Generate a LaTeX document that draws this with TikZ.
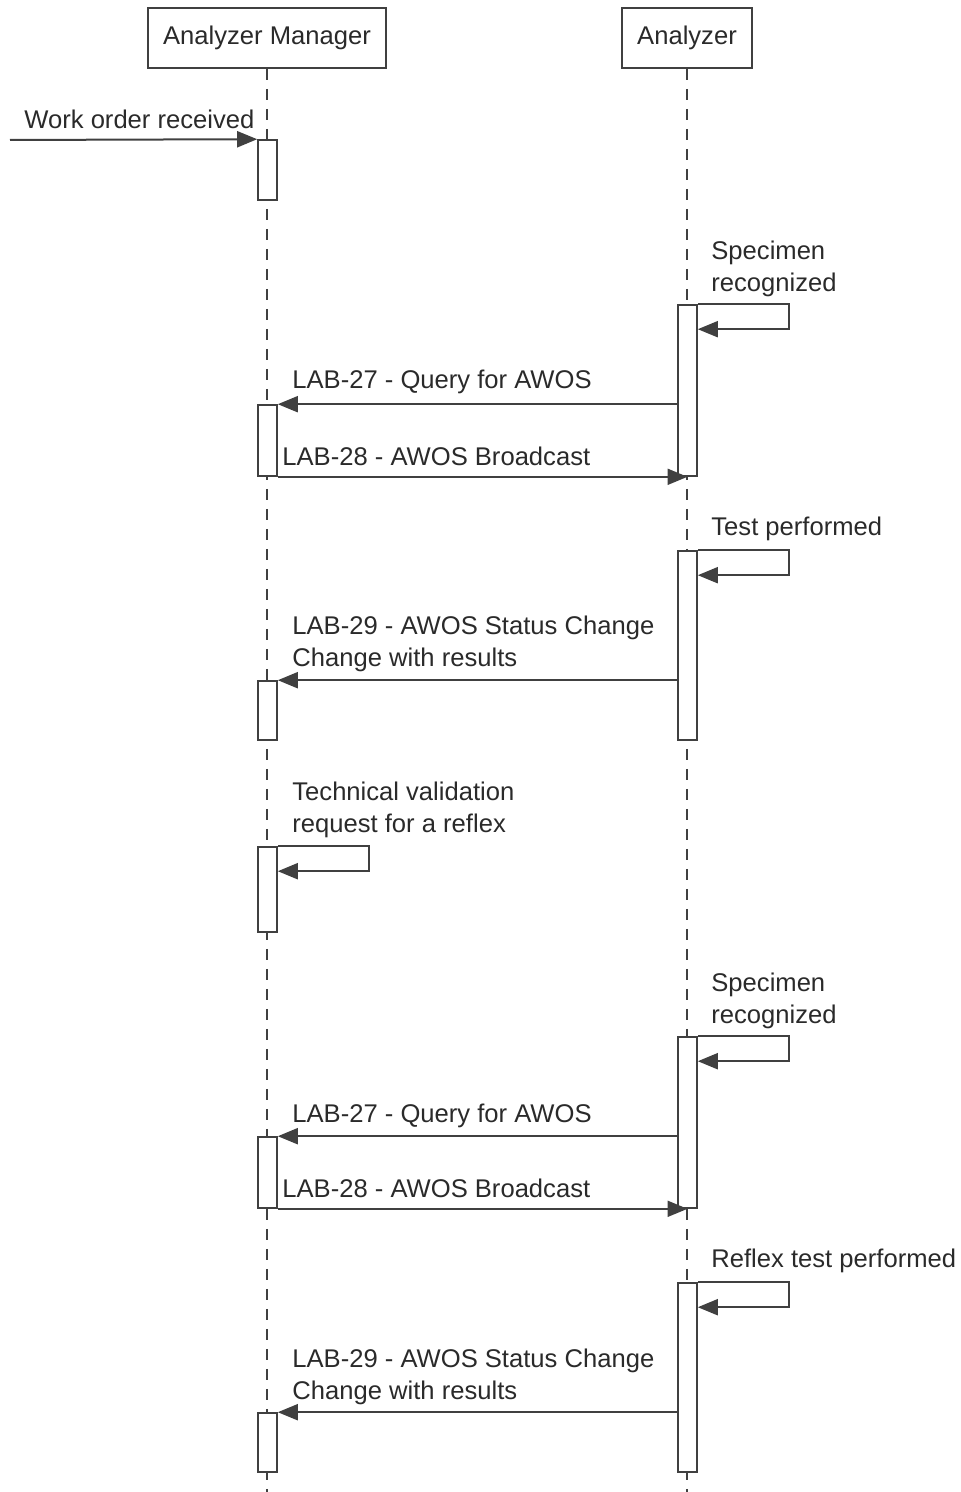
\documentclass[tikz,border=0pt]{standalone}
\usepackage{fontspec}
\setmainfont{Liberation Sans}
\usetikzlibrary{arrows.meta}
\definecolor{linegray}{HTML}{404040}
\definecolor{textgray}{HTML}{2A2A2A}
\tikzset{
    lifehead/.style={rectangle,draw=linegray,line width=0.8pt,fill=white,minimum height=30pt,inner sep=0pt,font=\fontsize{12.8}{16}\selectfont,text=textgray},
    activation/.style={rectangle,draw=linegray,line width=0.8pt,fill=white,minimum width=9.5pt,inner sep=0pt},
    msglabel/.style={rectangle,draw=none,anchor=west,align=left,inner sep=0pt,font=\fontsize{12.8}{16}\selectfont,text=textgray},
    lifeline/.style={draw=linegray,line width=0.7pt,dash pattern=on 5.5pt off 4.5pt},
    directed/.style={draw=linegray,line width=1pt,arrows={-{Triangle[length=10pt,width=8pt]}}},
    selfmsg/.style={draw=linegray,line width=1pt,arrows={-{Triangle[length=10pt,width=8pt]}}},
    }
\begin{document}
\begin{tikzpicture}[x=0.5pt,y=-0.5pt]
	\useasboundingbox (0,0) rectangle (960,1492);

		\node[lifehead,minimum width=119pt] (mgr) at (267,38) {Analyzer Manager};
		\node[lifehead,minimum width=65pt] (ana) at (687,38) {Analyzer};

		\coordinate (mgrend) at (267,1492);
		\coordinate (anaend) at (687,1492);
		\coordinate (start) at (10,140);

	\draw[lifeline] (mgr.south) -- (mgrend);
	\draw[lifeline] (ana.south) -- (anaend);

		% activations of the manager
		\node[activation,minimum height=30pt] (m1) at (267.5,170) {};
		\node[activation,minimum height=35.5pt] (m2) at (267.5,440.5) {};
		\node[activation,minimum height=29.5pt] (m3) at (267.5,710.5) {};
		\node[activation,minimum height=42.5pt] (m4) at (267.5,889.5) {};
		\node[activation,minimum height=35.5pt] (m5) at (267.5,1172.5) {};
		\node[activation,minimum height=29.5pt] (m6) at (267.5,1442.5) {};

		% activations of the analyzer
		\node[activation,minimum height=85.5pt] (a1) at (687.5,390.5) {};
		\node[activation,minimum height=94.5pt] (a2) at (687.5,645.5) {};
		\node[activation,minimum height=85.5pt] (a3) at (687.5,1122.5) {};
		\node[activation,minimum height=94.5pt] (a4) at (687.5,1377.5) {};

	\draw[directed] (start) to (m1.north west);

	\draw[selfmsg] (a1.north east) -- ++(91,0) |- ([yshift=-12.5pt]a1.north east);
	\draw[directed] (a1.west |- m2.north) to (m2.north east);
	\draw[directed] (m2.south east) to (a1.south);

	\draw[selfmsg] (a2.north east) -- ++(91,0) |- ([yshift=-12.5pt]a2.north east);
	\draw[directed] (a2.west |- m3.north) to (m3.north east);

	\draw[selfmsg] (m4.north east) -- ++(91,0) |- ([yshift=-12.5pt]m4.north east);

	\draw[selfmsg] (a3.north east) -- ++(91,0) |- ([yshift=-12.5pt]a3.north east);
	\draw[directed] (a3.west |- m5.north) to (m5.north east);
	\draw[directed] (m5.south east) to (a3.south);

	\draw[selfmsg] (a4.north east) -- ++(91,0) |- ([yshift=-12.5pt]a4.north east);
	\draw[directed] (a4.west |- m6.north) to (m6.north east);

		\node[msglabel] (l0) at (24,119) {Work order received};
		\node[msglabel] (l1) at (711,269) {Specimen\\recognized};
		\node[msglabel] (l2) at (292,382) {LAB-27 - Query for AWOS};
		\node[msglabel] (l3) at (282,456) {LAB-28 - AWOS Broadcast};
		\node[msglabel] (l4) at (711,529) {Test performed};
		\node[msglabel] (l5) at (292,644) {LAB-29 - AWOS Status Change\\Change with results};
		\node[msglabel] (l6) at (292,810) {Technical validation\\request for a reflex};
		\node[msglabel] (l7) at (711,1001) {Specimen\\recognized};
		\node[msglabel] (l8) at (292,1116) {LAB-27 - Query for AWOS};
		\node[msglabel] (l9) at (282,1188) {LAB-28 - AWOS Broadcast};
		\node[msglabel] (l10) at (711,1261) {Reflex test performed};
		\node[msglabel] (l11) at (292,1377) {LAB-29 - AWOS Status Change\\Change with results};
    \end{tikzpicture}
\end{document}
